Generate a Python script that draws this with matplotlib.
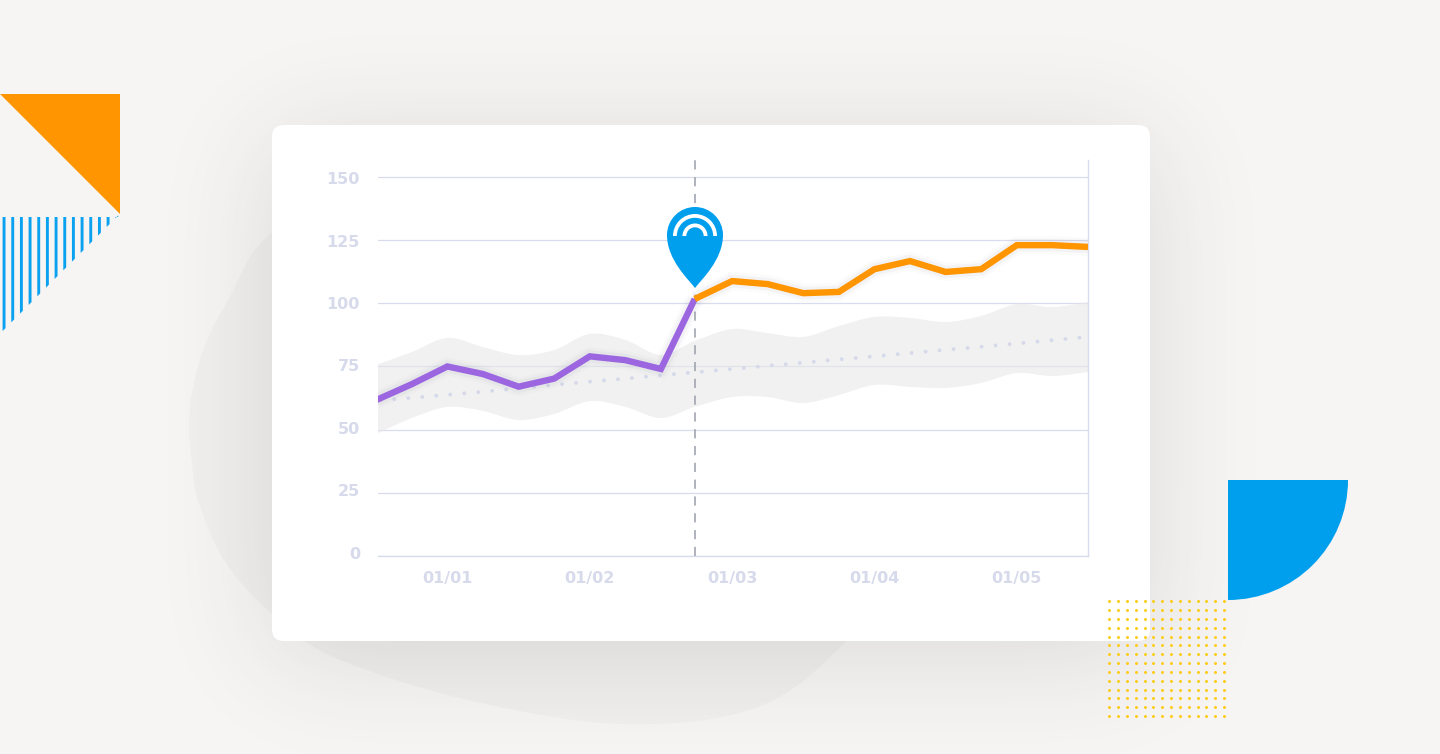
import math
import numpy as np
import matplotlib
matplotlib.use("Agg")
import matplotlib.pyplot as plt
import matplotlib.patheffects as pe
from matplotlib.patches import Polygon, Wedge, PathPatch, FancyBboxPatch
from matplotlib.path import Path
from matplotlib.transforms import ScaledTranslation

W, H = 1440, 754

# chart values, one point per step on the x axis
steps = [0, 1, 2, 3, 4, 5, 6, 7, 8, 8.95, 10, 11, 12, 13, 14, 15, 16, 17, 18, 19, 20]
purple_values = [61.7, 68.0, 75.0, 72.0, 67.0, 70.2, 79.0, 77.5, 74.0, 101.7]
orange_values = [101.7, 108.8, 107.6, 104.0, 104.5, 113.5, 116.7, 112.4, 113.5, 123.0, 123.0, 122.3]
trend_values = [61.5, 62.6, 63.8, 65.0, 66.4, 67.7, 69.0, 70.2, 71.5, 72.7, 74.0,
                75.3, 76.5, 77.8, 79.0, 80.3, 81.6, 82.8, 84.1, 85.4, 86.7]
band_upper = [75.6, 80.7, 86.3, 82.7, 79.5, 81.5, 87.9, 85.5, 79.5, 85.1, 89.8,
              88.2, 86.7, 91.0, 94.6, 94.2, 92.6, 95.0, 99.7, 98.5, 100.5]
band_lower = [48.3, 54.6, 59.0, 57.4, 53.8, 56.2, 61.3, 59.0, 54.6, 59.0, 62.9,
              62.9, 60.5, 63.7, 67.7, 66.9, 66.5, 68.5, 72.4, 71.2, 72.8]
y_ticks = [0, 25, 50, 75, 100, 125, 150]
x_ticks = [2, 6, 10, 14, 18]
x_labels = ["01/01", "01/02", "01/03", "01/04", "01/05"]
event_step = 8.95

# outline of the grey blob behind the card, in pixels
blob_x = [272, 250, 230, 213, 200, 192, 189, 192, 198, 224, 271, 334, 468, 624, 758, 847, 900, 900, 600, 340]
blob_y = [232, 257, 297, 327, 360, 393, 427, 463, 500, 560, 613, 657, 700, 724, 707, 640, 560, 300, 150, 170]

BG = "#f6f5f3"
BLOB = "#f0efed"
GRID = "#d9dcec"
LABEL = "#d6daeb"
BLUE = "#009fee"
ORANGE = "#ff9500"
PURPLE = "#9b66e0"

plt.rcParams["font.family"] = ["DejaVu Sans"]


# smooth closed or open curve through points (catmull-rom as bezier)
def smooth_verts(xs, ys, closed=False):
    pts = np.column_stack([xs, ys]).astype(float)
    n = len(pts)
    verts = [pts[0]]
    for i in range(n if closed else n - 1):
        if closed:
            p0, p1, p2, p3 = pts[(i - 1) % n], pts[i], pts[(i + 1) % n], pts[(i + 2) % n]
        else:
            p0, p1, p2, p3 = pts[max(i - 1, 0)], pts[i], pts[i + 1], pts[min(i + 2, n - 1)]
        verts += [p1 + (p2 - p0) / 6, p2 - (p3 - p1) / 6, p2]
    return verts


def overlay(z):
    a = fig.add_axes([0, 0, 1, 1], zorder=z)
    a.set_xlim(0, W)
    a.set_ylim(H, 0)
    a.axis("off")
    a.patch.set_alpha(0)
    return a


fig = plt.figure(figsize=(W / 100, H / 100), dpi=100, facecolor=BG)

back = overlay(0)

# blob
v = smooth_verts(blob_x, blob_y, closed=True)
codes = [Path.MOVETO] + [Path.CURVE4] * (len(v) - 1)
back.add_patch(PathPatch(Path(v, codes), facecolor=BLOB, edgecolor="none", zorder=1))

# soft card shadow
erf = np.vectorize(math.erf)
sx, sy, peak = 55.0, 55.0, 0.14
px = np.arange(W) + 0.5
py = np.arange(H) + 0.5
gx = 0.5 * (erf((px - 272) / (sx * 2**0.5)) - erf((px - 1150) / (sx * 2**0.5)))
gy = 0.5 * (erf((py - 140) / (sy * 2**0.5)) - erf((py - 656) / (sy * 2**0.5)))
shadow = np.zeros((H, W, 4))
shadow[..., :3] = 0.2
shadow[..., 3] = peak * np.outer(gy, gx)
back.imshow(shadow, extent=(0, W, H, 0), zorder=2, aspect="auto", interpolation="nearest")
back.set_xlim(0, W)
back.set_ylim(H, 0)

# card
back.add_patch(FancyBboxPatch((284, 137), 854, 492, boxstyle="round,pad=12,rounding_size=12",
                              facecolor="white", edgecolor="none", zorder=3))

# corner shapes
back.add_patch(Polygon([(0, 94), (120, 94), (120, 214)], closed=True, facecolor=ORANGE, edgecolor="none", zorder=3))
for sx0 in np.arange(2.6, 118, 8.67):
    bottom = 331 - (sx0 - 2.6)
    back.add_patch(Polygon([(sx0, 217), (sx0 + 2.9, 217), (sx0 + 2.9, bottom - 2.9), (sx0, bottom)],
                           closed=True, facecolor="#0aa2f0", edgecolor="none", zorder=3))
back.add_patch(Wedge((1228, 480), 120, 0, 90, facecolor=BLUE, edgecolor="none", zorder=3))

# chart
left, right, top, bottom = 378, 1088, 160, 556
ax = fig.add_axes([left / W, 1 - bottom / H, (right - left) / W, (bottom - top) / H], zorder=1)
ax.patch.set_alpha(0)
ax.set_xlim(0.05, 20)
ax.set_ylim(0, 156.7)
for s in ["top", "left"]:
    ax.spines[s].set_visible(False)
for s in ["right", "bottom"]:
    ax.spines[s].set_color(GRID)
    ax.spines[s].set_linewidth(1.0)
ax.set_yticks(y_ticks)
ax.set_xticks(x_ticks)
ax.set_xticklabels(x_labels)
ax.tick_params(length=0, labelcolor=LABEL, labelsize=11.5)
ax.tick_params(axis="x", pad=11)
ax.tick_params(axis="y", pad=13)
for lab in ax.get_xticklabels() + ax.get_yticklabels():
    lab.set_fontweight("bold")
# the y labels drift a little against the grid lines
for i, lab in enumerate(ax.get_yticklabels()):
    shift = 3.2 - 4.4 * i / 6
    lab.set_transform(lab.get_transform() + ScaledTranslation(0, shift / 100, fig.dpi_scale_trans))
ax.grid(axis="y", color=GRID, linewidth=0.9, zorder=1)
ax.set_axisbelow(True)

# band with smooth edges
up = smooth_verts(steps, band_upper)
low = smooth_verts(steps[::-1], band_lower[::-1])
verts = up + low + [up[0]]
codes = [Path.MOVETO] + [Path.CURVE4] * (len(up) - 1) + [Path.LINETO] + [Path.CURVE4] * (len(low) - 1) + [Path.LINETO]
ax.add_patch(PathPatch(Path(verts, codes), facecolor="#e8e8e9", alpha=0.6, edgecolor="none", zorder=2))

ax.plot(steps, trend_values, color="#d5d9ea", lw=2.8, linestyle=(2.57, (0.01, 3.6)),
        dash_capstyle="round", zorder=3)
ax.axvline(event_step, color="#9a9ea8", lw=1.1, linestyle=(0, (6, 5)), zorder=3)

glow = [pe.Stroke(linewidth=13, foreground="#60688a", alpha=0.025),
        pe.Stroke(linewidth=9, foreground="#60688a", alpha=0.05),
        pe.Normal()]
ax.plot(steps[:10], purple_values, color=PURPLE, lw=4.6, solid_joinstyle="miter",
        solid_capstyle="butt", path_effects=glow, zorder=4)
ax.plot(steps[9:], orange_values, color=ORANGE, lw=4.6, solid_joinstyle="miter",
        solid_capstyle="butt", path_effects=glow, zorder=5)

front = overlay(2)

# pin marker
cx, cy, r = 695, 235, 28
k = 0.5523 * r
pin = [(cx, 288), (cx - 6, 280), (cx - r, 260), (cx - r, cy),
       (cx - r, cy - k), (cx - k, cy - r), (cx, cy - r),
       (cx + k, cy - r), (cx + r, cy - k), (cx + r, cy),
       (cx + r, 260), (cx + 6, 280), (cx, 288), (cx, 288)]
pin_codes = [Path.MOVETO] + [Path.CURVE4] * 12 + [Path.CLOSEPOLY]
front.add_patch(PathPatch(Path(pin, pin_codes), facecolor=BLUE, edgecolor="none", zorder=1))
front.add_patch(Wedge((cx, 236), 22, 180, 360, width=3.8, facecolor="white", edgecolor="none", zorder=2))
front.add_patch(Wedge((cx, 236), 12.5, 180, 360, width=3.8, facecolor="white", edgecolor="none", zorder=2))

# yellow dot grid
dx, dy = np.meshgrid(np.linspace(1109.3, 1224, 14), np.linspace(601.3, 716, 14))
front.scatter(dx.ravel(), dy.ravel(), s=4.6, color="#ffcb14", linewidths=0, zorder=3)

fig.savefig("out.png", dpi=100, facecolor=BG)
